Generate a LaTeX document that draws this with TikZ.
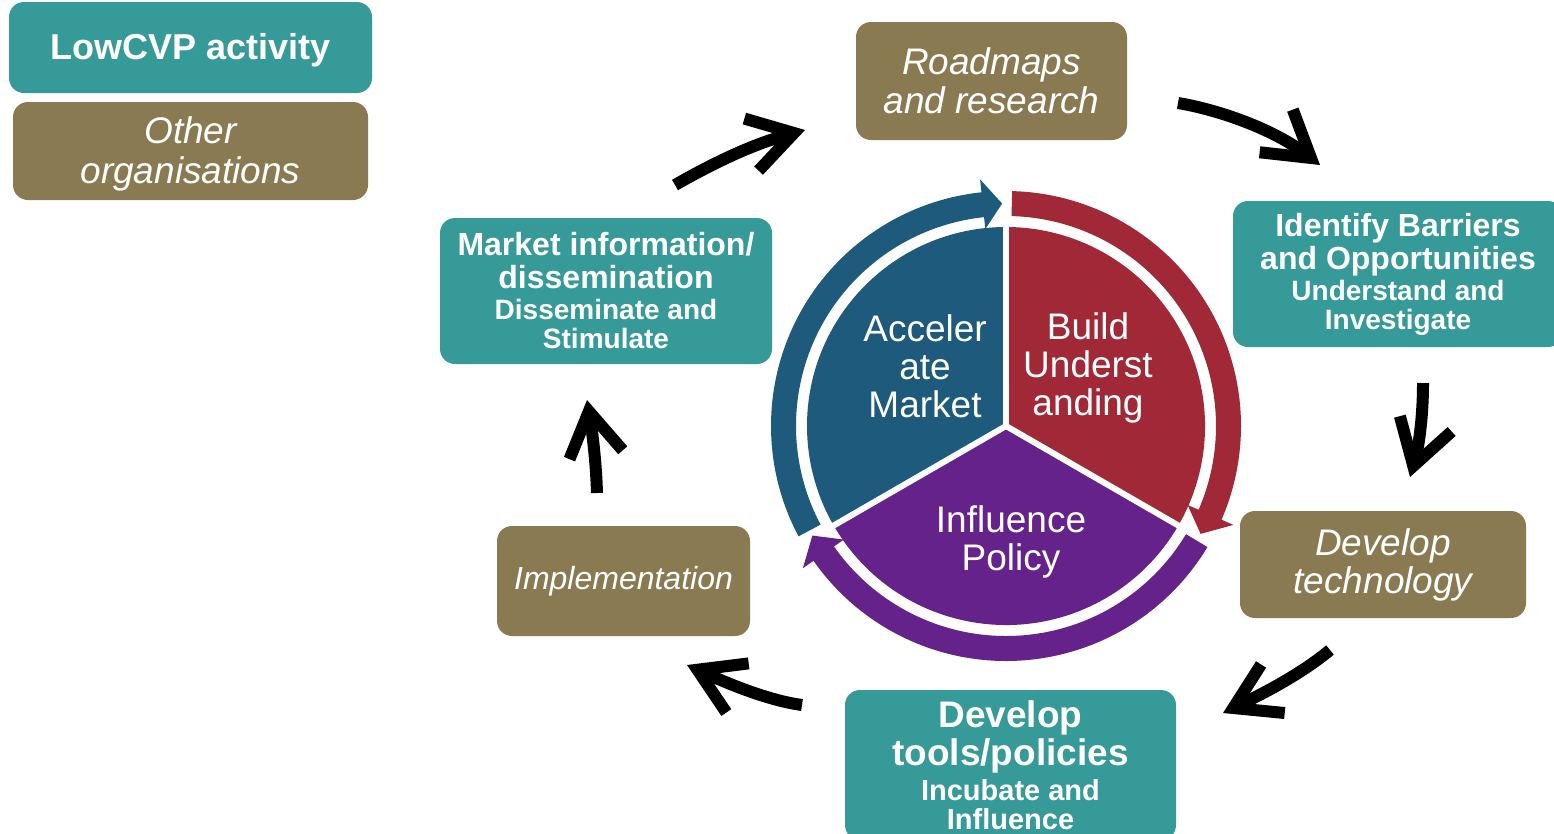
\documentclass[tikz,border=0pt]{standalone}
\usepackage{fontspec}
\setmainfont{Liberation Sans}
\usetikzlibrary{arrows.meta}

\definecolor{boxteal}{HTML}{359A98}
\definecolor{boxbrown}{HTML}{8A7A52}
\definecolor{wheelblue}{HTML}{1E5A7C}
\definecolor{wheelred}{HTML}{A12937}
\definecolor{wheelpurple}{HTML}{65228B}

\newcommand{\fsz}[2]{\fontsize{#1}{#2}\selectfont}
\newcommand{\textdown}[1]{\raisebox{-3pt}[\height][\depth]{#1}}
% colour, start angle, head base angle, tip angle
\newcommand{\ringarrow}[4]{%
  \fill[#1] (#2:210) arc[start angle=#2, end angle=#3, radius=210] -- (#3:198) -- (#4:222.5)
    -- (#3:248) -- (#3:235) arc[start angle=#3, end angle=#2, radius=235] -- cycle;}

\tikzset{every picture/.style={line width=0.75pt},
  tealbox/.style={fill=boxteal, text=white, rounded corners=15pt, inner sep=0pt, align=center},
  brownbox/.style={fill=boxbrown, text=white, rounded corners=15pt, inner sep=0pt, align=center},
  pietext/.style={text=white, align=center, font=\fsz{37}{38}},
  cyclearrow/.style={line width=12pt, -{Straight Barb[length=44pt,width=54pt]}}}

\begin{document}
\begin{tikzpicture}[x=1pt,y=-1pt]
\useasboundingbox (0,0) rectangle (1554,833);

% key
\node [tealbox, minimum width=363, minimum height=91, font=\bfseries\fsz{36}{40}] (lowcvp) at (190.5,47.5) {\textdown{LowCVP activity}};
\node [brownbox, minimum width=355, minimum height=98, font=\itshape\fsz{37}{40}] (others) at (190.5,151) {\textdown{Other}\\\textdown{organisations}};

% wheel
\begin{scope}[shift={(1006,426)}, yscale=-1]
\fill [wheelblue] (0,0) -- (90:199) arc[start angle=90, end angle=210, radius=199] -- cycle;
\fill [wheelred] (0,0) -- (-30:199) arc[start angle=-30, end angle=90, radius=199] -- cycle;
\fill [wheelpurple] (0,0) -- (210:199) arc[start angle=210, end angle=330, radius=199] -- cycle;
\foreach \a in {90,210,330} \draw [white, line width=6pt] (0,0) -- (\a:203);
\ringarrow{wheelblue}{208}{96}{91}
\ringarrow{wheelred}{88.5}{-23.5}{-29}
\ringarrow{wheelpurple}{329}{215}{209.5}
\end{scope}

\node [pietext] (accel) at (925,366) {Acceler\\ate\\Market};
\node [pietext] (build) at (1088,368) {Build\\Underst\\anding};
\node [pietext] (influence) at (1011,542) {Influence\\Policy};

% stages
\node [brownbox, minimum width=271, minimum height=118, font=\itshape\fsz{37}{39}] (roadmaps) at (991.5,81) {Roadmaps\\and research};
\node [tealbox, minimum width=330, minimum height=146, font=\bfseries\fsz{32}{33}] (barriers) at (1398,274)
  {Identify Barriers\\and Opportunities\\[-2pt]\fsz{28}{33}Understand and\\[-4pt]\fsz{28}{33}Investigate};
\node [brownbox, minimum width=286, minimum height=107, font=\itshape\fsz{37}{38}] (devtech) at (1383,564.5) {Develop\\technology};
\node [tealbox, minimum width=331, minimum height=150, font=\bfseries\fsz{37}{38}] (tools) at (1010.5,765)
  {Develop\\tools/policies\\[-3pt]\fsz{29}{38}Incubate and\\[-9pt]\fsz{29}{38}Influence};
\node [brownbox, minimum width=253, minimum height=110, font=\itshape\fsz{32}{34}] (implement) at (623.5,581) {Implementation};
\node [tealbox, minimum width=332, minimum height=146, font=\bfseries\fsz{32}{33}] (market) at (606,291)
  {Market information/\\dissemination\\[-2pt]\fsz{28}{33}Disseminate and\\[-4pt]\fsz{28}{33}Stimulate};

% cycle arrows
\coordinate (a1s) at (675,185);  \coordinate (a1e) at (805,130);
\coordinate (a2s) at (1178,103); \coordinate (a2e) at (1320,165);
\coordinate (a3s) at (1423,383); \coordinate (a3e) at (1410,477);
\coordinate (a4s) at (1330,650); \coordinate (a4e) at (1223,713);
\coordinate (a5s) at (802,705);  \coordinate (a5e) at (687,665);
\coordinate (a6s) at (597,493);  \coordinate (a6e) at (587,400);

\draw [cyclearrow] (a1s) .. controls (710,165) and (750,145) .. (a1e);
\draw [cyclearrow] (a2s) .. controls (1220,110) and (1275,130) .. (a2e);
\draw [cyclearrow] (a3s) .. controls (1423,420) and (1418,450) .. (a3e);
\draw [cyclearrow] (a4s) .. controls (1300,675) and (1260,695) .. (a4e);
\draw [cyclearrow] (a5s) .. controls (765,700) and (720,680) .. (a5e);
\draw [cyclearrow] (a6s) .. controls (596,460) and (592,430) .. (a6e);

\end{tikzpicture}
\end{document}
